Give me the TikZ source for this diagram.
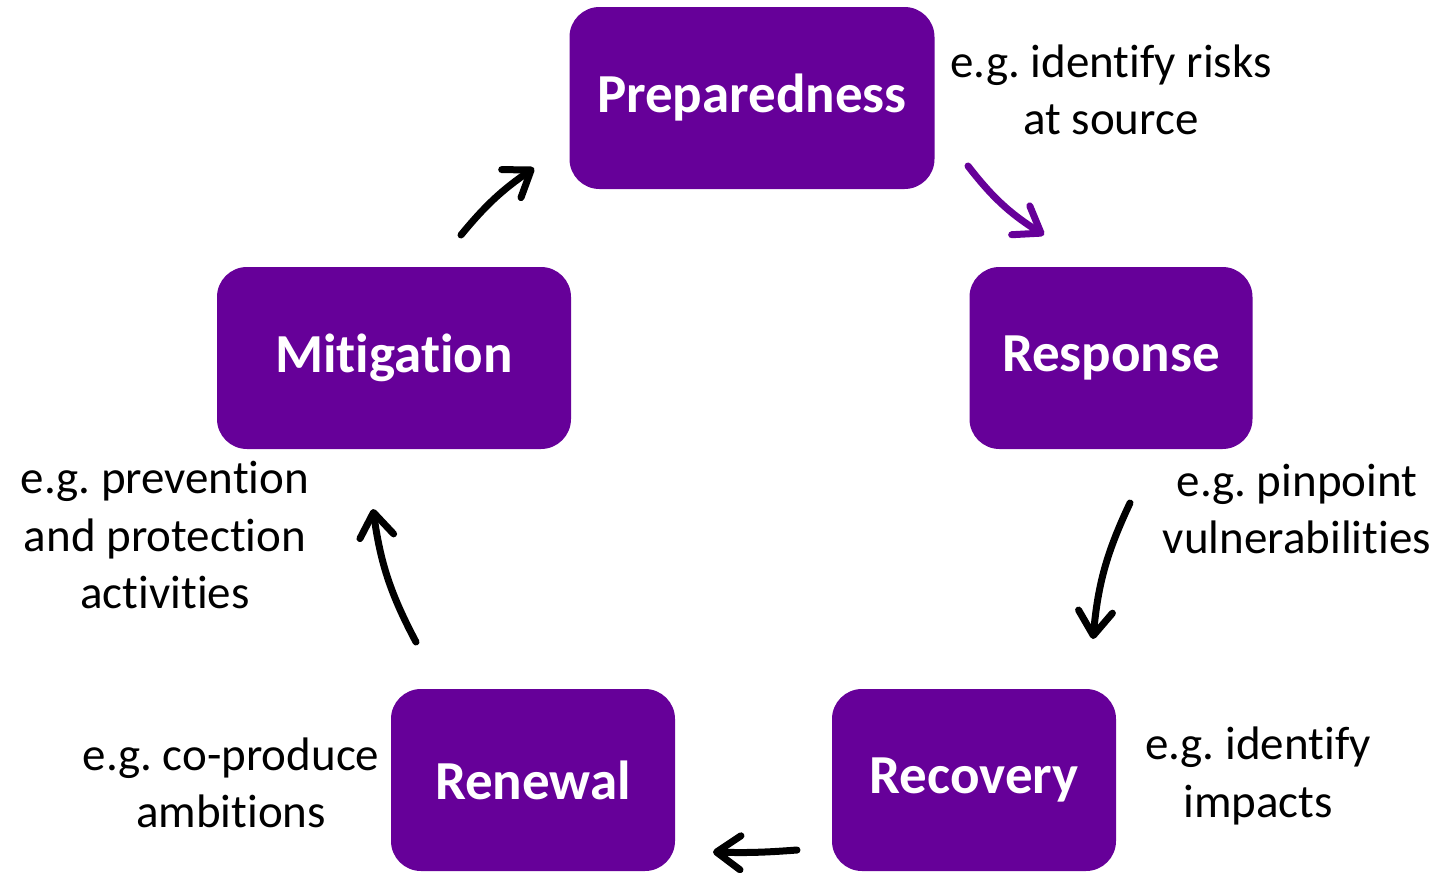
\documentclass[tikz,border=0pt]{standalone}
\usepackage{fontspec}
\setmainfont{Carlito}[Ligatures=NoCommon]
\usepackage{xcolor}
\usetikzlibrary{arrows.meta,positioning}
\definecolor{phasepurple}{HTML}{660099}
\frenchspacing

\begin{document}
\begin{tikzpicture}[
    x=0.5pt, y=-0.5pt,
    phase/.style={rectangle, rounded corners=15pt, fill=phasepurple, text=white, minimum height=91pt, inner sep=0pt, font=\fontsize{27.5}{33}\selectfont\bfseries},
    note/.style={align=center, font=\fontsize{23.5}{28.8}\selectfont},
    arrow/.style={line width=3.5pt, line cap=round, -{Straight Barb[length=12pt, width=17pt, round]}}
]
\useasboundingbox (0,0) rectangle (1452,873);

% Phases
\node[phase, minimum width=182.5pt] (prep) at (752,98) {\raisebox{-1pt}{Preparedness}};
\node[phase, minimum width=141.5pt] (resp) at (1111,358) {\raisebox{-1pt}{Response}};
\node[phase, minimum width=142pt] (recov) at (974,780) {\raisebox{-1pt}{Recovery}};
\node[phase, minimum width=142pt] (renew) at (533,780) {\raisebox{-1pt}{Renewal}};
\node[phase, minimum width=177pt] (mitig) at (394,358) {\raisebox{-1pt}{Mitigation}};

% Examples
\node[note] (prepnote) at (1111,90) {e.g. identify risks\\at source};
\node[note] (respnote) at (1297,509) {e.g. pinpoint\\vulnerabilities};
\node[note] (recovnote) at (1258,776) {e.g. identify\\impacts};
\node[note] (renewnote) at (231,783) {e.g. co-produce\\ambitions};
\node[note] (mitignote) at (165,535) {e.g. prevention\\and protection\\activities};

% Arrow ends
\coordinate (a1) at (461,235);  \coordinate (b1) at (534,168);
\coordinate (a2) at (968,166);  \coordinate (b2) at (1044,235);
\coordinate (a3) at (1130,503); \coordinate (b3) at (1093,639);
\coordinate (a4) at (797,850);  \coordinate (b4) at (713,852);
\coordinate (a5) at (416,642);  \coordinate (b5) at (373,509);

% Arrows
\draw[arrow] (a1) to[bend left=8] (b1);
\draw[arrow, phasepurple] (a2) to[bend right=10] (b2);
\draw[arrow] (a3) to[bend right=10] (b3);
\draw[arrow] (a4) to[bend left=3] (b4);
\draw[arrow] (a5) to[bend left=10] (b5);

\end{tikzpicture}
\end{document}
